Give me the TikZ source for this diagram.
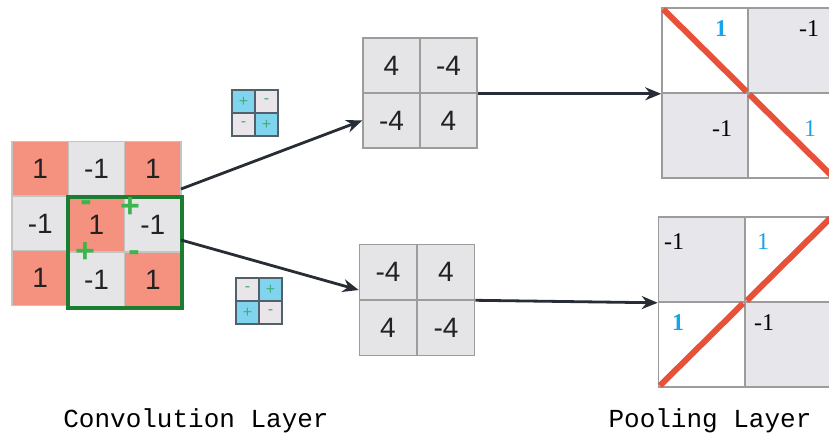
\documentclass[tikz,border=0pt]{standalone}
\usepackage{fontspec}
\setmainfont{Liberation Serif}
\setsansfont{Liberation Sans}
\setmonofont{Liberation Mono}
\usetikzlibrary{arrows.meta,calc}

\definecolor{salmon}{HTML}{F5917F}
\definecolor{cellgray}{HTML}{E5E5E7}
\definecolor{inborder}{HTML}{C4C4C4}
\definecolor{numtext}{HTML}{222222}
\definecolor{convborder}{HTML}{9C9C9C}
\definecolor{poolgray}{HTML}{E7E6EA}
\definecolor{poolblue}{HTML}{1AA3E8}
\definecolor{slashred}{HTML}{E8503A}
\definecolor{boxgreen}{HTML}{1B7D2F}
\definecolor{signgreen}{HTML}{3CB54E}
\definecolor{kerblue}{HTML}{80D4EE}
\definecolor{kerlight}{HTML}{EAE5E9}
\definecolor{kerborder}{HTML}{52606B}
\definecolor{kersign}{HTML}{3FAE7E}
\definecolor{arrowdark}{HTML}{272C35}

\tikzset{
  incell/.style={draw=inborder, line width=0.6pt, minimum width=28.2pt,
    minimum height=27.3pt, inner sep=0pt, text=numtext,
    font=\sffamily\fontsize{14}{14}\selectfont},
  inone/.style={incell, fill=salmon},
  inneg/.style={incell, fill=cellgray},
  gsign/.style={inner sep=0pt, text=signgreen, font=\sffamily\bfseries\fontsize{17}{17}\selectfont},
  kcell/.style={draw=kerborder, line width=0.9pt, minimum width=11.5pt,
    minimum height=11.5pt, inner sep=0pt, text=kersign,
    font=\sffamily\fontsize{8}{8}\selectfont},
  kplus/.style={kcell, fill=kerblue},
  kminus/.style={kcell, fill=kerlight},
  ccell/.style={draw=convborder, line width=0.8pt, fill=cellgray,
    minimum width=28.5pt, minimum height=27.5pt, inner sep=0pt, text=numtext,
    font=\sffamily\fontsize{14}{14}\selectfont},
  pcell/.style={draw=convborder, line width=0.8pt, minimum width=43pt,
    minimum height=42.5pt, inner sep=0pt},
  pgray/.style={pcell, fill=poolgray},
  pwhite/.style={pcell, fill=white},
  pnum/.style={inner sep=0pt, font=\fontsize{12}{12}\selectfont},
  pone/.style={pnum, text=poolblue},
  slash/.style={draw=slashred, line width=3pt, shorten <=1.5pt, shorten >=1.5pt},
  flow/.style={draw=arrowdark, line width=1.4pt, -{Stealth[length=8pt,width=6.5pt]}},
  caption/.style={font=\ttfamily\fontsize{13}{13}\selectfont}
}

\begin{document}
\begin{tikzpicture}[x=0.5pt,y=-0.5pt]
\useasboundingbox (0,0) rectangle (829,448);
\clip (0,0) rectangle (829,448);

% input image
\node[inone] (in11) at (40.2,168.5) {1};
\node[inneg] (in12) at (96.5,168.5) {-1};
\node[inone] (in13) at (152.8,168.5) {1};
\node[inneg] (in21) at (40.2,223.5) {-1};
\node[inone] (in22) at (96.5,224.5) {1};
\node[inneg] (in23) at (152.8,224.5) {-1};
\node[inone] (in31) at (40.2,278) {1};
\node[inneg] (in32) at (96.5,280) {-1};
\node[inone] (in33) at (152.8,280) {1};
\draw[boxgreen, line width=2pt] (in22.north west) rectangle (in33.south east);

\node[gsign] (g1) at (86,206) {-};
\node[gsign] (g2) at (130,208) {+};
\node[gsign] (g3) at (85,253) {+};
\node[gsign] (g4) at (134,256) {-};

% kernels
\node[kplus] (ka) at (243.5,101.5) {+};
\node[kminus] (kb) at (266.5,101.5) {-};
\node[kminus] (kc) at (243.5,124.5) {-};
\node[kplus] (kd) at (266.5,124.5) {+};

\node[kminus] (la) at (247.5,289.5) {-};
\node[kplus] (lb) at (270.5,289.5) {+};
\node[kplus] (lc) at (247.5,312.5) {+};
\node[kminus] (ld) at (270.5,312.5) {-};

% convolution results
\node[ccell] (c1a) at (391.5,65.5) {4};
\node[ccell] (c1b) at (448.5,65.5) {-4};
\node[ccell] (c1c) at (391.5,120.5) {-4};
\node[ccell] (c1d) at (448.5,120.5) {4};

\node[ccell] (c2a) at (388,272) {-4};
\node[ccell] (c2b) at (446,272) {4};
\node[ccell] (c2c) at (388,328) {4};
\node[ccell] (c2d) at (446,328) {-4};

% pooling
\node[pwhite] (p1a) at (705,50.5) {};
\node[pgray] (p1b) at (791,50.5) {};
\node[pgray] (p1c) at (705,135.5) {};
\node[pwhite] (p1d) at (791,135.5) {};
\draw[slash] (p1a.north west) -- (p1a.south east);
\draw[slash] (p1d.north west) -- (p1d.south east);
\node[pone, font=\bfseries\fontsize{12}{12}\selectfont] (n1) at (721,29) {1};
\node[pnum] (n2) at (809,29) {-1};
\node[pnum] (n3) at (722,129) {-1};
\node[pone] (n4) at (810,129) {1};

\node[pgray] (p2a) at (701.5,259.5) {};
\node[pwhite] (p2b) at (788.5,259.5) {};
\node[pwhite] (p2c) at (701.5,344.5) {};
\node[pgray] (p2d) at (788.5,344.5) {};
\draw[slash] (p2b.south west) -- (p2b.north east);
\draw[slash] (p2c.south west) -- (p2c.north east);
\node[pnum] (m1) at (674,242) {-1};
\node[pone] (m2) at (763,242) {1};
\node[pone, font=\bfseries\fontsize{12}{12}\selectfont] (m3) at (678,323) {1};
\node[pnum] (m4) at (764,323) {-1};

% arrows
\coordinate (outA) at (181,189);
\coordinate (outB) at (181,240);
\draw[flow] (outA) -- (c1c.west);
\draw[flow] (outB) -- ([yshift=-9pt]c2a.west);
\draw[flow] (c1b.south east) -- (p1a.south west);
\draw[flow] (c2b.south east) -- (p2a.south west);

\node[caption] (convlabel) at (196,421) {Convolution Layer};
\node[caption] (poollabel) at (710,421) {Pooling Layer};
\end{tikzpicture}
\end{document}
